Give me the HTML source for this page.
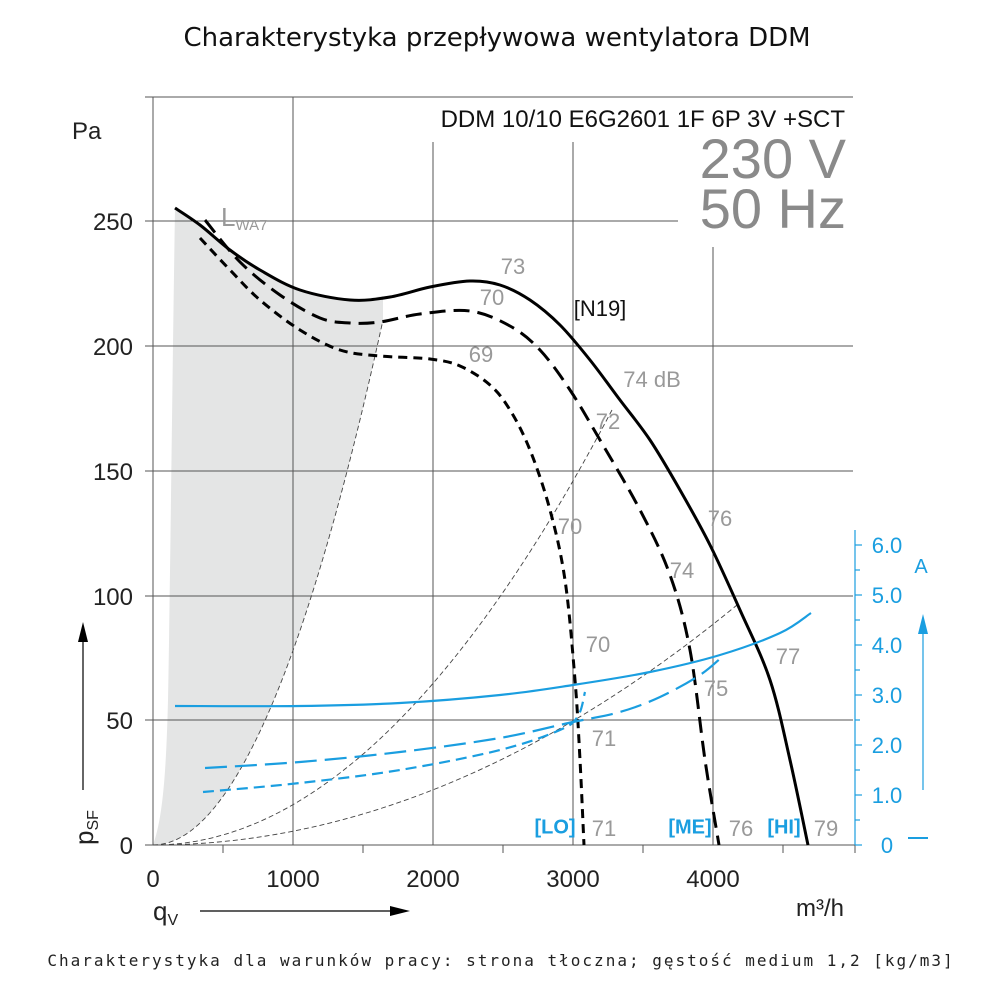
<!DOCTYPE html>
<html><head><meta charset="utf-8"><style>
html,body{margin:0;padding:0;background:#fff;}
svg{display:block;font-family:"Liberation Sans",sans-serif;}
</style></head><body>
<svg id="s" width="1000" height="993" viewBox="0 0 1000 993" xmlns="http://www.w3.org/2000/svg">
<text x="497" y="46" font-size="26" text-anchor="middle" fill="#111" font-family="DejaVu Sans, Liberation Sans, sans-serif">Charakterystyka przepływowa wentylatora DDM</text>
<!-- shaded -->
<path d="M153,845 C162,820 166,780 168,700 C170,600 172,400 175,208 C200,225 220,245 240,258 C270,278 300,292 330,298 C355,301 370,298 383,296 L383,320 Q268,845 153,845 Z" fill="#e4e5e5"/>
<!-- grid -->
<g stroke="#555" stroke-width="1" fill="none">
<line x1="145" y1="97" x2="853" y2="97"/>
<line x1="153" y1="97" x2="153" y2="845"/>
<line x1="293" y1="97" x2="293" y2="845"/>
<line x1="433" y1="142" x2="433" y2="845"/>
<line x1="573" y1="142" x2="573" y2="845"/>
<line x1="713" y1="247" x2="713" y2="845"/>
<line x1="145" y1="221" x2="678" y2="221"/>
<line x1="145" y1="346" x2="853" y2="346"/>
<line x1="145" y1="471" x2="853" y2="471"/>
<line x1="145" y1="596" x2="853" y2="596"/>
<line x1="145" y1="720" x2="853" y2="720"/>
<line x1="145" y1="845" x2="855" y2="845"/>
<line x1="223" y1="845" x2="223" y2="853"/><line x1="363" y1="845" x2="363" y2="853"/><line x1="503" y1="845" x2="503" y2="853"/><line x1="643" y1="845" x2="643" y2="853"/><line x1="783" y1="845" x2="783" y2="853"/><line x1="855" y1="845" x2="855" y2="853"/>
</g>
<!-- system curves -->
<g stroke="#444" stroke-width="0.9" fill="none" stroke-dasharray="5,3">
<path d="M153,845 Q268,845 383,320"/>
<path d="M153,845 Q383,845 612,410"/>
<path d="M153,845 Q445,845 737,605"/>
</g>
<!-- fan curves -->
<g fill="none" stroke="#000" stroke-width="3" stroke-linejoin="round">
<path class="sm" data-p="175,208 200,225 230,250 260,270 300,290 350,300 390,297 430,287 470,281 500,285 530,300 560,325 590,360 620,400 650,440 680,490 710,545 740,610 770,680 790,760 808,845"/>
<path class="sm" stroke-dasharray="16,8" data-p="205,220 240,262 280,295 320,318 350,323 380,322 420,314 470,311 510,326 540,350 570,390 600,440 640,510 670,575 690,650 705,760 719,845"/>
<path class="sm" stroke-dasharray="9,6" data-p="200,238 230,270 260,300 300,330 340,350 380,356 430,359 460,366 490,385 510,410 530,450 550,510 565,580 575,680 580,760 584,845"/>
</g>
<!-- currents -->
<g fill="none" stroke="#1a9ee0" stroke-width="2.2">
<path class="sm" data-p="175,706 300,706 400,703 500,695 573,685 650,672 720,655 780,633 811,613"/>
<path class="sm" stroke-dasharray="22,8" data-p="205,768 300,762 400,752 500,738 573,722 620,712 660,697 700,675 722,657"/>
<path class="sm" stroke-dasharray="11,6" data-p="203,792 300,783 400,770 500,750 560,730 578,716 585,692"/>
</g>
<!-- right axis -->
<g stroke="#1a9ee0" stroke-width="1.2">
<line x1="855" y1="530" x2="855" y2="845"/>
<line x1="855" y1="845" x2="862" y2="845"/><line x1="855" y1="820" x2="860" y2="820"/>
<line x1="855" y1="795" x2="862" y2="795"/><line x1="855" y1="770" x2="860" y2="770"/>
<line x1="855" y1="745" x2="862" y2="745"/><line x1="855" y1="720" x2="860" y2="720"/>
<line x1="855" y1="695" x2="862" y2="695"/><line x1="855" y1="670" x2="860" y2="670"/>
<line x1="855" y1="645" x2="862" y2="645"/><line x1="855" y1="620" x2="860" y2="620"/>
<line x1="855" y1="595" x2="862" y2="595"/><line x1="855" y1="570" x2="860" y2="570"/>
<line x1="855" y1="545" x2="862" y2="545"/>
<line x1="923" y1="790" x2="923" y2="630"/>
<line x1="908" y1="838" x2="928" y2="838" stroke-width="2"/>
</g>
<polygon points="918,634 928,634 923,614" fill="#1a9ee0"/>
<g fill="#1a9ee0" font-size="22" text-anchor="middle">
<text x="887" y="853">0</text><text x="887" y="803">1.0</text><text x="887" y="753">2.0</text><text x="887" y="703">3.0</text><text x="887" y="653">4.0</text><text x="887" y="603">5.0</text><text x="887" y="553">6.0</text>
<text x="921" y="573" font-size="20">A</text>
</g>
<g fill="#222" font-size="24" text-anchor="end">
<text x="133" y="230">250</text><text x="133" y="355">200</text><text x="133" y="480">150</text><text x="133" y="605">100</text><text x="133" y="729">50</text><text x="133" y="854">0</text>
</g>
<text x="72" y="139" font-size="24" fill="#222">Pa</text>
<g fill="#222" font-size="24" text-anchor="middle">
<text x="153" y="887">0</text><text x="293" y="887">1000</text><text x="433" y="887">2000</text><text x="573" y="887">3000</text><text x="713" y="887">4000</text>
</g>
<text x="153" y="920" font-size="26" fill="#222">q<tspan font-size="16" dy="5">V</tspan></text>
<line x1="200" y1="911" x2="392" y2="911" stroke="#000" stroke-width="1.2"/>
<polygon points="390,906 410,911 390,916" fill="#000"/>
<text x="796" y="916" font-size="24" fill="#222">m³/h</text>
<text transform="translate(93,845) rotate(-90)" font-size="26" fill="#222">p<tspan font-size="16" dy="5">SF</tspan></text>
<line x1="83" y1="790" x2="83" y2="640" stroke="#000" stroke-width="1.2"/>
<polygon points="78,642 88,642 83,622" fill="#000"/>
<text x="845" y="127" font-size="24" fill="#111" text-anchor="end">DDM 10/10 E6G2601 1F 6P 3V +SCT</text>
<text x="846" y="178" font-size="56" fill="#8a8a8a" text-anchor="end">230 V</text>
<text x="846" y="228" font-size="56" fill="#8a8a8a" text-anchor="end">50 Hz</text>
<text x="221" y="226" font-size="26" fill="#999">L<tspan font-size="15" dy="4">WA7</tspan></text>
<g fill="#999" font-size="22" text-anchor="middle" dominant-baseline="middle">
<text x="513" y="268">73</text><text x="492" y="299">70</text><text x="481" y="356">69</text>
<text x="652" y="381">74 dB</text><text x="608" y="423">72</text><text x="570" y="528">70</text>
<text x="720" y="520">76</text><text x="682" y="572">74</text><text x="598" y="646">70</text>
<text x="788" y="658">77</text><text x="716" y="690">75</text><text x="604" y="740">71</text>
<text x="604" y="830">71</text><text x="741" y="830">76</text><text x="826" y="830">79</text>
</g>
<text x="600" y="310" font-size="22" fill="#111" text-anchor="middle" dominant-baseline="middle">[N19]</text>
<g fill="#1a9ee0" font-size="20" font-weight="bold" text-anchor="middle" dominant-baseline="middle">
<text x="555" y="828">[LO]</text><text x="690" y="828">[ME]</text><text x="784" y="828">[HI]</text>
</g>
<text x="501" y="966" font-size="16" fill="#222" text-anchor="middle" letter-spacing="2" font-family="DejaVu Sans Mono, Liberation Mono, monospace">Charakterystyka dla warunków pracy: strona tłoczna; gęstość medium 1,2 [kg/m3]</text>
</svg>
<script>
document.querySelectorAll('path.sm').forEach(function(el){
  var p=el.getAttribute('data-p').trim().split(/\s+/).map(function(s){return s.split(',').map(Number);});
  var d='M'+p[0][0]+','+p[0][1];
  for(var i=0;i<p.length-1;i++){
    var p0=p[i-1]||p[i],p1=p[i],p2=p[i+1],p3=p[i+2]||p2;
    var c1=[p1[0]+(p2[0]-p0[0])/6,p1[1]+(p2[1]-p0[1])/6];
    var c2=[p2[0]-(p3[0]-p1[0])/6,p2[1]-(p3[1]-p1[1])/6];
    d+=' C'+c1[0].toFixed(1)+','+c1[1].toFixed(1)+' '+c2[0].toFixed(1)+','+c2[1].toFixed(1)+' '+p2[0]+','+p2[1];
  }
  el.setAttribute('d',d);
});
</script>
</body></html>
